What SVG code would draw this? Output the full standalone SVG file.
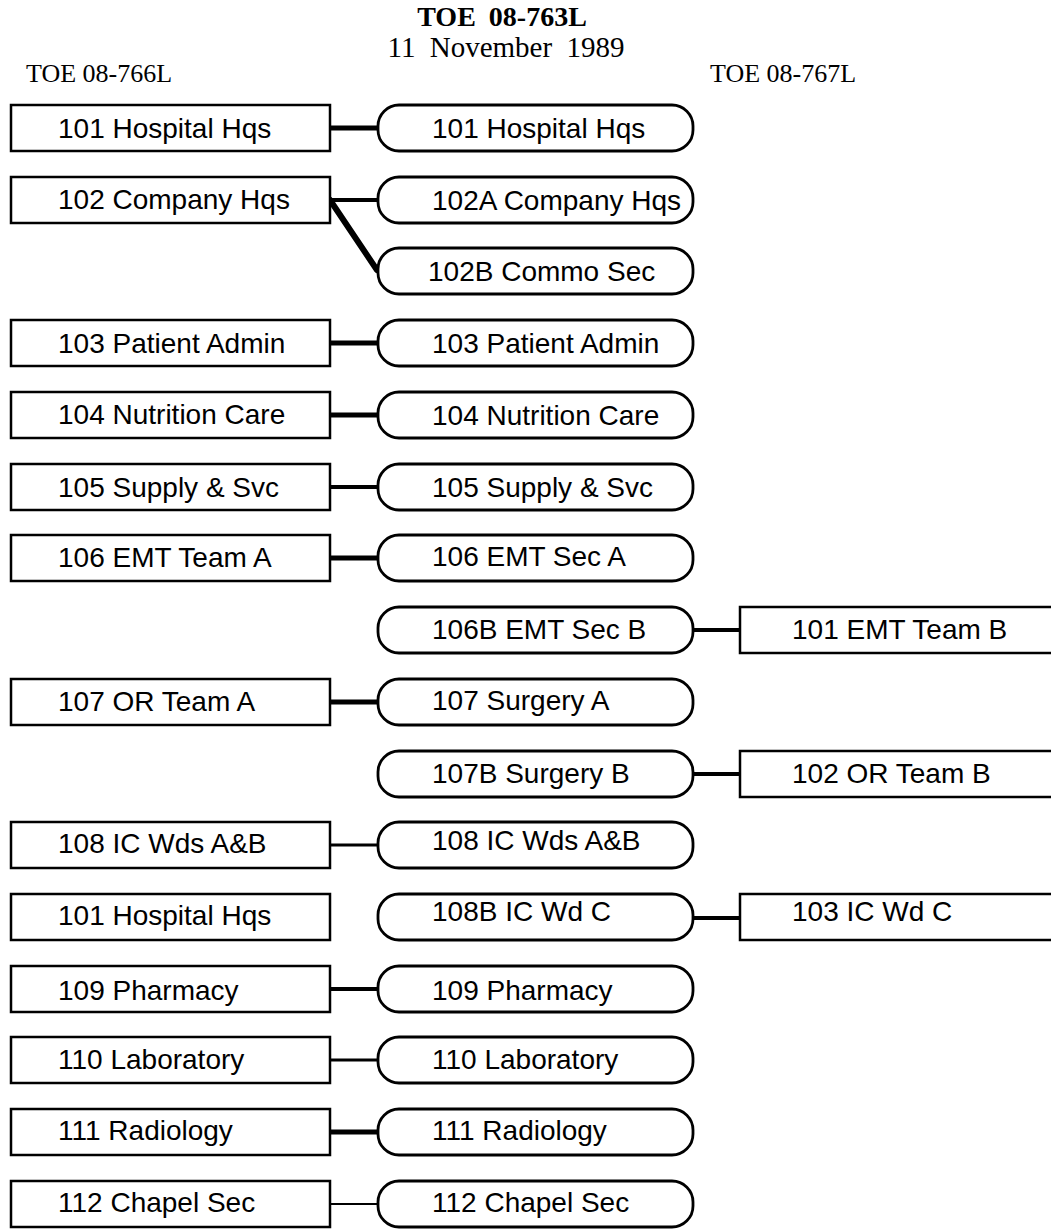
<svg xmlns="http://www.w3.org/2000/svg" width="1051" height="1230" viewBox="0 0 1051 1230">
<style>
.bg{fill:#fff}
.rect{fill:#fff;stroke:#000;stroke-width:2.5}
.pill{fill:#fff;stroke:#000;stroke-width:2.8}
.lbl{font-family:"Liberation Sans",Arial,Helvetica,sans-serif;font-size:28px;fill:#000}
.hdr{font-family:"Liberation Serif","Times New Roman",serif;fill:#000}
.conn line{stroke:#000;stroke-linecap:round;fill:none}
</style>
<rect class="bg" x="0" y="0" width="1051" height="1230"/>
<g id="header">
<text class="hdr" x="502" y="26" font-size="28" font-weight="bold" text-anchor="middle" word-spacing="6">TOE 08-763L</text>
<text class="hdr" x="506" y="57" font-size="29" text-anchor="middle" word-spacing="7">11 November 1989</text>
<text class="hdr" x="26" y="82" font-size="26">TOE 08-766L</text>
<text class="hdr" x="710" y="82" font-size="26">TOE 08-767L</text>
</g>
<g id="connectors" class="conn">
<line x1="330" y1="128" x2="378" y2="128" stroke-width="5"/>
<line x1="330" y1="200" x2="378" y2="200" stroke-width="4"/>
<line x1="330" y1="200" x2="377" y2="270" stroke-width="6"/>
<line x1="330" y1="343" x2="378" y2="343" stroke-width="5"/>
<line x1="330" y1="415" x2="378" y2="415" stroke-width="5"/>
<line x1="330" y1="487" x2="378" y2="487" stroke-width="4"/>
<line x1="330" y1="558" x2="378" y2="558" stroke-width="5"/>
<line x1="693" y1="630" x2="740" y2="630" stroke-width="4"/>
<line x1="330" y1="702" x2="378" y2="702" stroke-width="5"/>
<line x1="693" y1="774" x2="740" y2="774" stroke-width="4"/>
<line x1="330" y1="845" x2="378" y2="845" stroke-width="3"/>
<line x1="693" y1="918" x2="740" y2="918" stroke-width="4"/>
<line x1="330" y1="989" x2="378" y2="989" stroke-width="4"/>
<line x1="330" y1="1060" x2="378" y2="1060" stroke-width="3"/>
<line x1="330" y1="1132" x2="378" y2="1132" stroke-width="5"/>
<line x1="330" y1="1204" x2="378" y2="1204" stroke-width="2"/>
</g>
<g id="L101"><rect class="rect" x="11" y="105" width="319" height="46"/><text class="lbl" x="58" y="138">101 Hospital Hqs</text></g>
<g id="R101"><rect class="pill" x="378" y="105" width="315" height="46" rx="21"/><text class="lbl" x="432" y="138">101 Hospital Hqs</text></g>
<g id="L102"><rect class="rect" x="11" y="177" width="319" height="46"/><text class="lbl" x="58" y="209">102 Company Hqs</text></g>
<g id="R102A"><rect class="pill" x="378" y="177" width="315" height="46" rx="21"/><text class="lbl" x="432" y="210">102A Company Hqs</text></g>
<g id="R102B"><rect class="pill" x="378" y="248" width="315" height="46" rx="21"/><text class="lbl" x="428" y="281">102B Commo Sec</text></g>
<g id="L103"><rect class="rect" x="11" y="320" width="319" height="46"/><text class="lbl" x="58" y="353">103 Patient Admin</text></g>
<g id="R103"><rect class="pill" x="378" y="320" width="315" height="46" rx="21"/><text class="lbl" x="432" y="353">103 Patient Admin</text></g>
<g id="L104"><rect class="rect" x="11" y="392" width="319" height="46"/><text class="lbl" x="58" y="424">104 Nutrition Care</text></g>
<g id="R104"><rect class="pill" x="378" y="392" width="315" height="46" rx="21"/><text class="lbl" x="432" y="425">104 Nutrition Care</text></g>
<g id="L105"><rect class="rect" x="11" y="464" width="319" height="46"/><text class="lbl" x="58" y="497">105 Supply &amp; Svc</text></g>
<g id="R105"><rect class="pill" x="378" y="464" width="315" height="46" rx="21"/><text class="lbl" x="432" y="497">105 Supply &amp; Svc</text></g>
<g id="L106"><rect class="rect" x="11" y="535" width="319" height="46"/><text class="lbl" x="58" y="567">106 EMT Team A</text></g>
<g id="R106"><rect class="pill" x="378" y="535" width="315" height="46" rx="21"/><text class="lbl" x="432" y="566">106 EMT Sec A</text></g>
<g id="R106B"><rect class="pill" x="378" y="607" width="315" height="46" rx="21"/><text class="lbl" x="432" y="639">106B EMT Sec B</text></g>
<g id="F101"><rect class="rect" x="740" y="607" width="320" height="46"/><text class="lbl" x="792" y="639">101 EMT Team B</text></g>
<g id="L107"><rect class="rect" x="11" y="679" width="319" height="46"/><text class="lbl" x="58" y="711">107 OR Team A</text></g>
<g id="R107"><rect class="pill" x="378" y="679" width="315" height="46" rx="21"/><text class="lbl" x="432" y="710">107 Surgery A</text></g>
<g id="R107B"><rect class="pill" x="378" y="751" width="315" height="46" rx="21"/><text class="lbl" x="432" y="783">107B Surgery B</text></g>
<g id="F102"><rect class="rect" x="740" y="751" width="320" height="46"/><text class="lbl" x="792" y="783">102 OR Team B</text></g>
<g id="L108"><rect class="rect" x="11" y="822" width="319" height="46"/><text class="lbl" x="58" y="853">108 IC Wds A&amp;B</text></g>
<g id="R108"><rect class="pill" x="378" y="822" width="315" height="46" rx="21"/><text class="lbl" x="432" y="850">108 IC Wds A&amp;B</text></g>
<g id="L101b"><rect class="rect" x="11" y="894" width="319" height="46"/><text class="lbl" x="58" y="925">101 Hospital Hqs</text></g>
<g id="R108B"><rect class="pill" x="378" y="894" width="315" height="46" rx="21"/><text class="lbl" x="432" y="921">108B IC Wd C</text></g>
<g id="F103"><rect class="rect" x="740" y="894" width="320" height="46"/><text class="lbl" x="792" y="921">103 IC Wd C</text></g>
<g id="L109"><rect class="rect" x="11" y="966" width="319" height="46"/><text class="lbl" x="58" y="1000">109 Pharmacy</text></g>
<g id="R109"><rect class="pill" x="378" y="966" width="315" height="46" rx="21"/><text class="lbl" x="432" y="1000">109 Pharmacy</text></g>
<g id="L110"><rect class="rect" x="11" y="1037" width="319" height="46"/><text class="lbl" x="58" y="1069">110 Laboratory</text></g>
<g id="R110"><rect class="pill" x="378" y="1037" width="315" height="46" rx="21"/><text class="lbl" x="432" y="1069">110 Laboratory</text></g>
<g id="L111"><rect class="rect" x="11" y="1109" width="319" height="46"/><text class="lbl" x="58" y="1140">111 Radiology</text></g>
<g id="R111"><rect class="pill" x="378" y="1109" width="315" height="46" rx="21"/><text class="lbl" x="432" y="1140">111 Radiology</text></g>
<g id="L112"><rect class="rect" x="11" y="1181" width="319" height="46"/><text class="lbl" x="58" y="1212">112 Chapel Sec</text></g>
<g id="R112"><rect class="pill" x="378" y="1181" width="315" height="46" rx="21"/><text class="lbl" x="432" y="1212">112 Chapel Sec</text></g>
</svg>
